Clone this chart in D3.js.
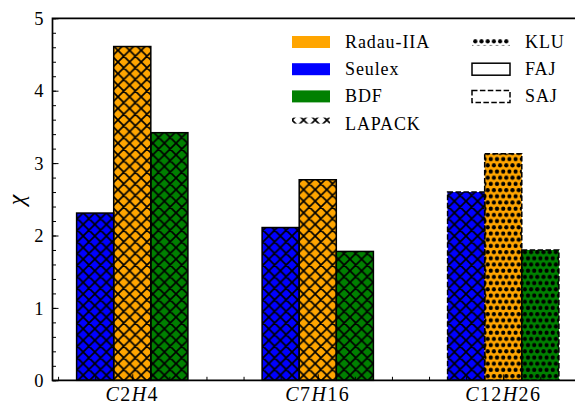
<!DOCTYPE html>
<html>
<head>
<meta charset="utf-8">
<script src="https://cdn.jsdelivr.net/npm/d3@7"></script>
<style>
  body { margin: 0; background: #fff; }
  svg { display: block; }
</style>
</head>
<body>
<script>
// ---- data ----
const groups = ["C2H4", "C7H16", "C12H26"];
const solvers = ["Seulex", "Radau-IIA", "BDF"];
const seulex = [2.31, 2.11, 2.60];
const radau = [4.61, 2.77, 3.13];
const bdf = [3.42, 1.78, 1.80];
// linear solver used for each group (rows) and integrator (columns)
const linearSolver = [
  ["LAPACK", "LAPACK", "LAPACK"],
  ["LAPACK", "LAPACK", "LAPACK"],
  ["LAPACK", "KLU", "KLU"]
];
// Jacobian type per group
const jacobian = ["FAJ", "FAJ", "SAJ"];
const yTicks = [0, 1, 2, 3, 4, 5];
const legendColumn1 = ["Radau-IIA", "Seulex", "BDF", "LAPACK"];
const legendColumn2 = ["KLU", "FAJ", "SAJ"];

const series = [seulex, radau, bdf];

// ---- styles ----
const FONT = '"Liberation Serif", serif';
const colors = { "Seulex": "#0000ff", "Radau-IIA": "#ffa500", "BDF": "#008000" };
const patternOf = { "LAPACK": "url(#hatch-xx)", "KLU": "url(#hatch-dots)" };
const dashOf = { "FAJ": null, "SAJ": "5.5,2.4" };

const W = 575, H = 403;
const svg = d3.select("body").append("svg").attr("width", W).attr("height", H);

const x = d3.scaleLinear().domain([-0.43, 2.43]).range([52.5, 583]);
const y = d3.scaleLinear().domain([0, 5]).range([380.3, 18.3]);
const barWidth = 0.2;
const offsets = [-0.2, 0, 0.2];

// ---- hatch patterns ----
const defs = svg.append("defs");
const P = 11.6;
const xx = defs.append("pattern")
  .attr("id", "hatch-xx")
  .attr("patternUnits", "userSpaceOnUse")
  .attr("x", 2).attr("y", 4)
  .attr("width", P).attr("height", P);
let dPath = "";
for (const k of [-1, 0, 1]) {
  dPath += `M${k * P},0L${k * P + P},${P}M${k * P},${P}L${k * P + P},0`;
}
xx.append("path").attr("d", dPath)
  .attr("stroke", "#000").attr("stroke-width", 1.7).attr("fill", "none");

const D = 6.2;
const dots = defs.append("pattern")
  .attr("id", "hatch-dots")
  .attr("patternUnits", "userSpaceOnUse")
  .attr("x", 1).attr("y", 1)
  .attr("width", D).attr("height", 2 * D);
dots.append("circle").attr("cx", D / 2).attr("cy", D / 2).attr("r", 2.1).attr("fill", "#000");
dots.append("circle").attr("cx", 0).attr("cy", 1.5 * D).attr("r", 2.1).attr("fill", "#000");
dots.append("circle").attr("cx", D).attr("cy", 1.5 * D).attr("r", 2.1).attr("fill", "#000");

// ---- bars ----
const bars = [];
groups.forEach((g, i) => {
  solvers.forEach((s, j) => {
    bars.push({ group: i, solver: s, value: series[j][i], off: offsets[j],
                lin: linearSolver[i][j], jac: jacobian[i] });
  });
});

const barG = svg.append("g");
const bx = d => x(d.group + d.off - barWidth / 2);
const bw = d => x(d.group + d.off + barWidth / 2) - x(d.group + d.off - barWidth / 2);

barG.selectAll("rect.fill").data(bars).join("rect")
  .attr("class", "fill")
  .attr("x", bx).attr("width", bw)
  .attr("y", d => y(d.value)).attr("height", d => y(0) - y(d.value))
  .attr("fill", d => colors[d.solver]);

barG.selectAll("rect.hatch").data(bars).join("rect")
  .attr("class", "hatch")
  .attr("x", bx).attr("width", bw)
  .attr("y", d => y(d.value)).attr("height", d => y(0) - y(d.value))
  .attr("fill", d => patternOf[d.lin]);

barG.selectAll("rect.edge").data(bars).join("rect")
  .attr("class", "edge")
  .attr("x", bx).attr("width", bw)
  .attr("y", d => y(d.value)).attr("height", d => y(0) - y(d.value))
  .attr("fill", "none")
  .attr("stroke", "#000").attr("stroke-width", 1.5)
  .attr("stroke-dasharray", d => dashOf[d.jac]);

// ---- axes ----
const axG = svg.append("g");
const yMajor = d3.axisLeft(y).tickValues(yTicks).tickSize(-6).tickPadding(9).tickFormat(d3.format("d"));
const yMinor = d3.axisLeft(y).tickValues(d3.range(0, 5.01, 0.2)).tickSize(-3.5).tickFormat("");
const gYm = axG.append("g").attr("transform", `translate(${x(-0.43)},0)`).call(yMinor);
const gY = axG.append("g").attr("transform", `translate(${x(-0.43)},0)`).call(yMajor);
[gYm, gY].forEach(g => {
  g.select(".domain").remove();
  g.selectAll(".tick line").attr("stroke", "#000").attr("stroke-width", 1);
});
gY.selectAll(".tick text")
  .style("font-family", FONT).style("font-size", "18.5px")
  .attr("fill", "#000").attr("dy", "0.34em");

const xMinor = d3.axisBottom(x).tickValues(d3.range(-0.4, 2.41, 0.2)).tickSize(-3.5).tickFormat("");
const xMajor = d3.axisBottom(x).tickValues([0, 1, 2]).tickSize(-6).tickFormat("");
const gXm = axG.append("g").attr("transform", `translate(0,${y(0)})`).call(xMinor);
const gX = axG.append("g").attr("transform", `translate(0,${y(0)})`).call(xMajor);
[gXm, gX].forEach(g => {
  g.select(".domain").remove();
  g.selectAll(".tick line").attr("stroke", "#000").attr("stroke-width", 1);
});

// spines
axG.append("path")
  .attr("d", `M${W},${y(5)}H${x(-0.43)}V${y(0)}H${W}`)
  .attr("fill", "none").attr("stroke", "#000").attr("stroke-width", 1.7);

// group labels: letters in italic, digits upright
groups.forEach((g, i) => {
  const t = svg.append("text")
    .attr("x", x(i)).attr("y", 400.5)
    .attr("text-anchor", "middle")
    .style("font-family", FONT).style("font-size", "20px")
    .style("letter-spacing", "1.4px");
  g.match(/[A-Za-z]+|\d+/g).forEach(part => {
    t.append("tspan").text(part)
      .style("font-style", /\d/.test(part) ? "normal" : "italic");
  });
});

// y label
svg.append("text")
  .attr("transform", "translate(24,200) rotate(-90)")
  .attr("text-anchor", "middle")
  .style("font-family", FONT).style("font-size", "24px").style("font-style", "italic")
  .text("χ");

// ---- legend ----
const leg = svg.append("g");
const rowY = i => 42 + i * 27.2;
const hw = 38, hh = 12;
const legendText = (xPos, cy, name) =>
  leg.append("text").attr("x", xPos).attr("y", cy + 6)
    .style("font-family", FONT).style("font-size", "18px")
    .style("letter-spacing", "0.9px").text(name);

legendColumn1.forEach((name, i) => {
  const cy = rowY(i);
  if (colors[name]) {
    leg.append("rect").attr("x", 292).attr("y", cy - hh / 2).attr("width", hw).attr("height", hh)
      .attr("fill", colors[name]);
  } else {
    leg.append("rect").attr("x", 292).attr("y", cy - hh / 2).attr("width", hw).attr("height", 6)
      .attr("fill", patternOf[name]);
  }
  legendText(345, cy, name);
});
legendColumn2.forEach((name, i) => {
  const cy = rowY(i);
  const r = leg.append("rect").attr("x", 472).attr("y", cy - hh / 2).attr("width", hw).attr("height", hh);
  if (patternOf[name]) {
    r.attr("height", 8).attr("y", cy - 4).attr("fill", patternOf[name]);
  } else {
    r.attr("fill", "#fff").attr("stroke", "#000").attr("stroke-width", 1.5)
      .attr("stroke-dasharray", dashOf[name]);
  }
  legendText(525, cy, name);
});
</script>
</body>
</html>
